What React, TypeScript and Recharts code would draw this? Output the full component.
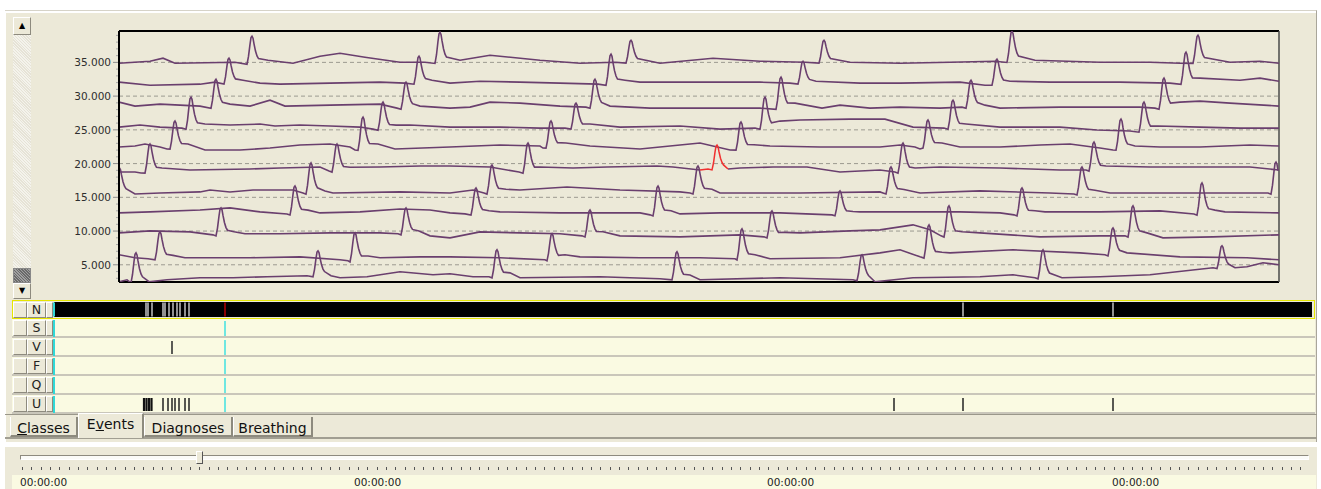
import React from "react";
import { LineChart, Line, XAxis, YAxis, ReferenceLine, ScatterChart, Scatter } from "recharts";

// time axis of the trace window (samples) and value range of the stacked leads
const T_MIN = 119;
const T_MAX = 1279;
const V_MIN = 2450;
const V_MAX = 39650;

const GRID_VALUES = [5000, 10000, 15000, 20000, 25000, 30000, 35000];
const AXIS_TICKS = [
  3000, 4000, 5000, 6000, 7000, 8000, 9000, 10000, 11000, 12000, 13000, 14000, 15000,
  16000, 17000, 18000, 19000, 20000, 21000, 22000, 23000, 24000, 25000, 26000, 27000,
  28000, 29000, 30000, 31000, 32000, 33000, 34000, 35000, 36000, 37000, 38000, 39000,
];

// baseline samples [t, value] and beats [t, base, top] for each stacked row
const A_BASE = [[119, 34880], [150, 35170], [163, 35620], [175, 34880], [235, 35020], [268, 35320], [293, 34880], [320, 35910], [340, 36350], [365, 35760], [400, 35020], [425, 35020], [460, 35320], [490, 36060], [540, 35320], [580, 34880], [615, 35020], [660, 34880], [713, 35620], [760, 35170], [805, 35020], [850, 35020], [900, 34880], [950, 35020], [995, 35170], [1035, 35320], [1100, 35020], [1150, 35020], [1180, 34880], [1230, 35020], [1260, 35170], [1279, 34880]];
const A_BEATS = [[252, 34880, 38870], [440, 35020, 39460], [631, 35020, 38280], [824, 35020, 38280], [1012, 35170, 39600], [1198, 35020, 39020]];

const B_BASE = [[119, 32070], [150, 31620], [200, 31770], [215, 32070], [243, 32360], [260, 31920], [280, 31770], [330, 31920], [380, 32070], [405, 31920], [432, 32360], [450, 31920], [480, 32210], [520, 32070], [560, 31920], [598, 31770], [625, 32360], [640, 32070], [700, 32070], [760, 32070], [790, 31920], [816, 32210], [860, 31920], [900, 31920], [960, 32070], [985, 31620], [1010, 32210], [1050, 32070], [1120, 32070], [1170, 31920], [1200, 32660], [1240, 32360], [1260, 32660], [1279, 32210]];
const B_BEATS = [[229, 31920, 35620], [419, 31920, 35910], [611, 31770, 36210], [803, 31920, 35170], [997, 31770, 35470], [1186, 31920, 36500]];

const C_BASE = [[119, 29110], [135, 28520], [160, 28810], [200, 28520], [230, 28810], [250, 28520], [270, 29400], [285, 28520], [330, 28660], [380, 28810], [397, 28220], [420, 28520], [450, 28220], [470, 28370], [490, 29110], [520, 28960], [560, 28520], [586, 28370], [610, 28520], [650, 28220], [700, 28220], [760, 28220], [795, 28960], [822, 28220], [840, 28660], [870, 28220], [900, 28370], [940, 28220], [962, 28370], [985, 28660], [1000, 28220], [1060, 28370], [1140, 28370], [1155, 28220], [1180, 29110], [1200, 29260], [1230, 28960], [1279, 28520]];
const C_BEATS = [[216, 28370, 32510], [406, 28220, 32070], [595, 28370, 32510], [781, 28220, 32810], [971, 28370, 32360], [1164, 28220, 32660]];

const D_BASE = [[119, 25410], [140, 25710], [160, 25410], [182, 25260], [205, 25860], [230, 25710], [260, 25860], [275, 25560], [300, 25710], [330, 25560], [360, 25410], [373, 25110], [396, 25700], [410, 25710], [450, 25410], [500, 25410], [540, 25260], [565, 25260], [590, 25860], [620, 25410], [680, 25560], [720, 25110], [755, 25260], [780, 26300], [800, 26450], [850, 26590], [885, 26590], [913, 25410], [944, 25260], [966, 25860], [1000, 25410], [1060, 25410], [1097, 24970], [1130, 24820], [1158, 25560], [1200, 25410], [1240, 25260], [1279, 25260]];
const D_BEATS = [[191, 25260, 29850], [383, 25110, 29110], [576, 25260, 28960], [765, 25260, 29850], [953, 25260, 29400], [1144, 24820, 29110]];

const E_BASE = [[119, 22450], [135, 22600], [145, 22900], [160, 22450], [167, 22160], [188, 22900], [205, 22010], [240, 22010], [270, 22300], [300, 22750], [330, 22900], [350, 22450], [355, 22010], [378, 22900], [395, 22160], [450, 22450], [500, 22750], [540, 22600], [543, 22300], [566, 23040], [590, 22600], [640, 22160], [680, 22750], [700, 23040], [730, 22010], [754, 22800], [770, 22600], [820, 22450], [880, 22450], [900, 22750], [915, 22450], [920, 22160], [942, 23040], [960, 22450], [1000, 22450], [1040, 22750], [1070, 22900], [1100, 22300], [1113, 22010], [1135, 22600], [1160, 22450], [1200, 22450], [1250, 22750], [1279, 22600]];
const E_BEATS = [[175, 22300, 26300], [363, 22160, 26890], [551, 22450, 26300], [741, 22160, 26150], [928, 22450, 26450], [1121, 22160, 26590]];

const F_BASE = [[119, 18750], [135, 18750], [141, 18610], [162, 19350], [190, 19050], [250, 19200], [280, 19350], [320, 19490], [329, 18900], [350, 19450], [380, 19490], [420, 19640], [450, 19640], [490, 19490], [519, 18750], [540, 19490], [573, 19350], [607, 19490], [657, 19640], [673, 19490], [700, 19050], [728, 19200], [740, 19350], [773, 19490], [807, 19490], [840, 18750], [880, 19050], [895, 18750], [915, 19350], [940, 19490], [1000, 19350], [1060, 19050], [1086, 19050], [1106, 19640], [1150, 19490], [1200, 19490], [1250, 19490], [1279, 19050]];
const F_BEATS = [[150, 18750, 22900], [337, 18900, 22900], [528, 18750, 23040], [903, 18750, 23040], [1094, 19050, 23190]];
const F_GAPS = [714];

// the highlighted (selected) beat on row F
const RED_BASE = [[700, 19050], [708, 19200], [728, 19200]];
const RED_BEATS = [[717, 19200, 22750]];

const G_BASE = [[135, 15500], [160, 15650], [200, 15800], [210, 16090], [230, 15800], [253, 16090], [293, 16090], [303, 15650], [325, 15950], [333, 15650], [400, 15800], [450, 15650], [473, 16090], [484, 15650], [506, 16200], [520, 16090], [567, 16540], [620, 16090], [680, 15800], [690, 15650], [712, 16200], [720, 15650], [800, 15650], [880, 15800], [883, 15650], [904, 16150], [920, 15650], [980, 15950], [1050, 15650], [1074, 15500], [1095, 16050], [1110, 15650], [1200, 15650], [1268, 15650]];
const G_BEATS = [[119.5, 15650, 19350], [311, 15650, 20090], [492, 15650, 19790], [698, 15650, 19640], [891, 15650, 19490], [1082, 15500, 19490], [1276, 15650, 20230]];

const H_BASE = [[119, 12690], [150, 12840], [200, 13130], [230, 13430], [260, 12840], [287, 12540], [308, 13100], [320, 12690], [360, 12840], [400, 13280], [430, 13130], [450, 12690], [465, 12540], [489, 13000], [500, 12840], [560, 12690], [600, 12690], [640, 12690], [650, 12400], [671, 13000], [680, 12540], [720, 12690], [780, 12690], [832, 12400], [853, 12900], [860, 12840], [880, 12840], [920, 12840], [960, 12840], [1000, 12690], [1014, 12400], [1035, 13000], [1045, 12840], [1100, 12840], [1160, 12990], [1194, 12540], [1215, 13100], [1225, 12840], [1279, 12690]];
const H_BEATS = [[295, 12540, 16680], [476, 12540, 16390], [658, 12400, 16680], [840, 12400, 15950], [1022, 12400, 16390], [1202, 12540, 17130]];

const I_BASE = [[119, 9730], [150, 10030], [190, 9880], [213, 9440], [234, 9900], [245, 9590], [280, 9590], [330, 9730], [380, 9730], [398, 9590], [419, 10000], [430, 9290], [450, 8990], [480, 9880], [520, 9730], [560, 9590], [582, 9290], [603, 9900], [620, 9290], [680, 9140], [740, 9440], [764, 9140], [785, 9800], [800, 9730], [850, 10030], [880, 10180], [913, 10920], [930, 10180], [941, 9290], [962, 9900], [980, 9730], [1040, 9140], [1100, 9290], [1125, 9290], [1147, 9730], [1163, 8990], [1213, 9140], [1279, 9440]];
const I_BEATS = [[221, 9440, 13430], [406, 9590, 13430], [590, 9290, 13130], [772, 9140, 12990], [949, 9290, 13730], [1133, 9290, 13730]];

const J_BASE = [[119, 6480], [135, 6040], [148, 5890], [173, 6400], [185, 6040], [250, 6040], [300, 6180], [340, 5740], [348, 5590], [368, 6300], [380, 6040], [420, 6180], [450, 6180], [500, 6040], [545, 5740], [565, 6480], [580, 6180], [640, 6040], [700, 6040], [735, 5890], [755, 6500], [770, 5890], [840, 6040], [880, 6770], [900, 7220], [920, 6180], [942, 6850], [950, 6770], [1013, 7220], [1080, 6770], [1105, 6480], [1127, 6770], [1180, 6180], [1247, 6040], [1279, 5740]];
const J_BEATS = [[160, 5890, 9880], [355, 5590, 9730], [552, 5740, 9590], [742, 5890, 10320], [929, 6180, 10920], [1113, 6480, 10470]];

const K_BASE = [[119, 2490], [127, 2780], [149, 2490], [167, 2780], [200, 3080], [233, 3080], [267, 3230], [307, 3370], [331, 3370], [340, 3080], [367, 3230], [400, 3960], [433, 3520], [450, 3670], [473, 3230], [489, 3230], [510, 3800], [520, 3080], [600, 3230], [660, 2930], [690, 3500], [700, 2780], [780, 3080], [853, 2780], [875, 2490], [913, 3080], [980, 3230], [1013, 3520], [1035, 3080], [1062, 3080], [1100, 3230], [1150, 3520], [1213, 4560], [1235, 4560], [1247, 4700], [1263, 5300], [1279, 5000]];
const K_BEATS = [[136, 2490, 6770], [318, 3370, 7070], [497, 3230, 7220], [677, 2930, 6920], [862, 2780, 6480], [1043, 3080, 7220], [1222, 4560, 7810]];

// QRS shape: [offset in samples, share of the beat amplitude]
const BEAT_SHAPE = [[-5, -0.04], [-3.5, 0.25], [-2, 0.7], [-1, 0.95], [0, 1], [1, 0.93], [2, 0.72], [3.5, 0.45], [5, 0.27], [6.5, 0.17]];

// overview strips
const STRIP_ROWS = ["N", "S", "V", "F", "Q", "U"];
const N_EVENTS = [146, 148, 152, 163, 165, 169, 173, 177, 180, 185, 189, 963, 1113];
const V_EVENTS = [172];
const U_EVENTS = [163, 168, 172, 175, 179, 185, 189, 894, 963, 1113];
const U_BURST = [144, 146.5, 149, 151.5];
const VIEW_START = 54;
const VIEW_CURSOR = 225;

const TIME_LABELS = [
  { t: 20, label: "00:00:00" },
  { t: 354, label: "00:00:00" },
  { t: 767, label: "00:00:00" },
  { t: 1112, label: "00:00:00" },
];

type Pt = { t: number; v: number | null };

function buildTrace(base: number[][], beats: number[][], gaps: number[] = []): Pt[] {
  const first = BEAT_SHAPE[0][0];
  const last = BEAT_SHAPE[BEAT_SHAPE.length - 1][0];
  const pts: Pt[] = [];
  for (const [t, v] of base) {
    if (beats.some(([bt]) => t > bt + first && t < bt + last)) continue;
    pts.push({ t, v });
  }
  for (const [bt, b, top] of beats) {
    for (const [dx, f] of BEAT_SHAPE) pts.push({ t: bt + dx, v: b + f * (top - b) });
  }
  for (const g of gaps) pts.push({ t: g, v: null });
  return pts.filter((p) => p.t >= T_MIN && p.t <= T_MAX).sort((a, b) => a.t - b.t);
}

const TRACES = [
  buildTrace(A_BASE, A_BEATS),
  buildTrace(B_BASE, B_BEATS),
  buildTrace(C_BASE, C_BEATS),
  buildTrace(D_BASE, D_BEATS),
  buildTrace(E_BASE, E_BEATS),
  buildTrace(F_BASE, F_BEATS, F_GAPS),
  buildTrace(G_BASE, G_BEATS),
  buildTrace(H_BASE, H_BEATS),
  buildTrace(I_BASE, I_BEATS),
  buildTrace(J_BASE, J_BEATS),
  buildTrace(K_BASE, K_BEATS),
];
const RED_TRACE = buildTrace(RED_BASE, RED_BEATS);

type MarkRow = { t: number; row: number; color: string; w: number; h: number };
const MARKS: MarkRow[] = [
  ...N_EVENTS.map((t) => ({ t, row: 0, color: "#f2f2f2", w: 1.2, h: 14 })),
  { t: VIEW_CURSOR, row: 0, color: "#d40000", w: 1.3, h: 14 },
  { t: VIEW_START, row: 0, color: "#30d8d8", w: 2, h: 14 },
  ...[1, 2, 3, 4, 5].map((row) => ({ t: VIEW_START, row, color: "#30d8d8", w: 2, h: 17 })),
  ...[1, 2, 3, 4, 5].map((row) => ({ t: VIEW_CURSOR, row, color: "#40e0e0", w: 1.5, h: 15 })),
  ...V_EVENTS.map((t) => ({ t, row: 2, color: "#333", w: 1.6, h: 13 })),
  ...U_BURST.map((t) => ({ t, row: 5, color: "#111", w: 2.2, h: 13 })),
  ...U_EVENTS.map((t) => ({ t, row: 5, color: "#222", w: 1.5, h: 13 })),
];

const BEIGE = "#ECE9D8";
const STRIP_BG = "#FAFAE2";
const FONT = "'DejaVu Sans', Tahoma, sans-serif";

function YTick(props: any) {
  const { x, y, payload } = props;
  const major = payload.value % 5000 === 0;
  return (
    <g>
      <line x1={x - (major ? 6 : 3)} x2={x - 1} y1={y} y2={y} stroke={major ? "#8f8f8f" : "#a9a9a9"} />
      {major && (
        <text x={x - 8} y={y + 4} textAnchor="end" fontSize={10.5} fontFamily={FONT} fill="#2e2e2e">
          {`${payload.value / 1000}.000`}
        </text>
      )}
    </g>
  );
}

function Mark(props: any) {
  const { cx, cy, payload } = props;
  return (
    <line x1={cx} x2={cx} y1={cy - payload.h / 2} y2={cy + payload.h / 2} stroke={payload.color} strokeWidth={payload.w} />
  );
}

const bevel: React.CSSProperties = {
  position: "absolute",
  boxSizing: "border-box",
  background: BEIGE,
  borderTop: "1px solid #fff",
  borderLeft: "1px solid #fff",
  borderRight: "1px solid #8d8a7e",
  borderBottom: "1px solid #8d8a7e",
};

function StripButtons({ top, letter }: { top: number; letter: string }) {
  return (
    <>
      <div style={{ ...bevel, left: 13, top: top + 2, width: 14, height: 16 }} />
      <div
        style={{
          ...bevel,
          left: 27,
          top: top + 2,
          width: 19,
          height: 16,
          fontSize: 12.5,
          lineHeight: "14px",
          textAlign: "center",
          color: "#222",
        }}
      >
        {letter}
      </div>
      <div style={{ ...bevel, left: 46, top: top + 2, width: 7, height: 16 }} />
    </>
  );
}

function Tab({ left, width, top, label, u, selected }: { left: number; width: number; top: number; label: string; u: number; selected?: boolean }) {
  return (
    <div
      style={{
        position: "absolute",
        left,
        top,
        width,
        height: selected ? 25 : 20,
        boxSizing: "border-box",
        background: BEIGE,
        borderLeft: "1px solid #fff",
        borderTop: selected ? "1px solid #fff" : "none",
        borderRight: "2px solid #8d8a7e",
        borderBottom: selected ? "none" : "2px solid #8d8a7e",
        fontSize: 14,
        lineHeight: "16px",
        paddingTop: selected ? 2 : 3,
        textAlign: "center",
        whiteSpace: "nowrap",
        color: "#111",
        zIndex: selected ? 2 : 1,
      }}
    >
      {u < 0 ? (
        label
      ) : (
        <>
          {label.slice(0, u)}
          <span style={{ textDecoration: "underline" }}>{label[u]}</span>
          {label.slice(u + 1)}
        </>
      )}
    </div>
  );
}

export default function App() {
  return (
    <div style={{ position: "absolute", left: 0, top: 0, width: 1321, height: 489, background: "#fff", overflow: "hidden", fontFamily: FONT }}>
      {/* main panel */}
      <div style={{ position: "absolute", left: 5, top: 10, width: 1312, height: 432, boxSizing: "border-box", background: BEIGE, borderTop: "1px solid #d6d3c8", borderRight: "1px solid #a9a69a", boxShadow: "inset 1px 2px #fff" }} />

      {/* vertical scroll bar */}
      <div style={{ position: "absolute", left: 13, top: 35, width: 18, height: 233, background: "repeating-linear-gradient(45deg, #f4f3ec 0 1px, #e6e3d6 1px 2px)" }} />
      <div style={{ ...bevel, left: 13, top: 17, width: 18, height: 18, fontSize: 8, lineHeight: "15px", textAlign: "center", color: "#000" }}>▲</div>
      <div style={{ position: "absolute", left: 13, top: 268, width: 18, height: 15, background: "repeating-linear-gradient(45deg, #6a6a6a 0 1px, #a0a0a0 1px 2px)", border: "1px solid #888", boxSizing: "border-box" }} />
      <div style={{ ...bevel, left: 13, top: 283, width: 18, height: 16, fontSize: 8, lineHeight: "14px", textAlign: "center", color: "#000" }}>▼</div>

      {/* traces */}
      <div style={{ position: "absolute", left: 0, top: 0 }}>
        <LineChart width={1300} height={290} margin={{ top: 31, right: 21, bottom: 8, left: 0 }}>
          <XAxis type="number" dataKey="t" domain={[T_MIN, T_MAX]} hide allowDataOverflow />
          <YAxis
            type="number"
            domain={[V_MIN, V_MAX]}
            ticks={AXIS_TICKS}
            interval={0}
            width={119}
            tickSize={0}
            tickMargin={0}
            tickLine={false}
            axisLine={{ stroke: "#000", strokeWidth: 2 }}
            tick={(p: any) => <YTick {...p} />}
            allowDataOverflow
          />
          {GRID_VALUES.map((v) => (
            <ReferenceLine key={v} y={v} stroke="#9c9a90" strokeDasharray="4 3" />
          ))}
          <ReferenceLine y={V_MAX} stroke="#000" strokeWidth={2} />
          <ReferenceLine y={V_MIN} stroke="#000" strokeWidth={2} />
          <ReferenceLine x={T_MAX} stroke="#4a4a4a" strokeWidth={1.5} />
          {TRACES.map((d, i) => (
            <Line
              key={i}
              data={d}
              dataKey="v"
              type="linear"
              stroke="#6a3f6e"
              strokeWidth={1.6}
              dot={false}
              activeDot={false}
              connectNulls={false}
              isAnimationActive={false}
            />
          ))}
          <Line data={RED_TRACE} dataKey="v" type="linear" stroke="#f03030" strokeWidth={1.5} dot={false} activeDot={false} isAnimationActive={false} />
        </LineChart>
      </div>

      {/* event strips */}
      <div style={{ position: "absolute", left: 12, top: 300, width: 1303, height: 19, boxSizing: "border-box", border: "1px solid #e6e600", background: BEIGE }} />
      <div style={{ position: "absolute", left: 54, top: 302, width: 1258, height: 15, background: "#000" }} />
      {STRIP_ROWS.slice(1).map((r, i) => (
        <div key={r} style={{ position: "absolute", left: 12, top: 319 + i * 19, width: 1303, height: 19, boxSizing: "border-box", background: STRIP_BG, borderBottom: "2px solid #c9c6ba" }} />
      ))}
      {STRIP_ROWS.map((r, i) => (
        <StripButtons key={r} top={300 + i * 19 - (i === 0 ? 0 : 1)} letter={r} />
      ))}
      <div style={{ position: "absolute", left: 0, top: 300 }}>
        <ScatterChart width={1321} height={114} margin={{ top: 0, right: 0, bottom: 0, left: 0 }}>
          <XAxis type="number" dataKey="t" domain={[0, 1321]} hide />
          <YAxis type="number" dataKey="row" domain={[-0.5, 5.5]} reversed hide />
          <Scatter data={MARKS} shape={(p: any) => <Mark {...p} />} isAnimationActive={false} />
        </ScatterChart>
      </div>
      <div style={{ position: "absolute", left: 5, top: 414, width: 1312, height: 1, background: "#9a978a" }} />

      {/* tabs */}
      <div style={{ position: "absolute", left: 5, top: 437, width: 1312, height: 2, background: "#a19e92" }} />
      <Tab left={10} width={68} top={417} label="Classes" u={0} />
      <Tab left={78} width={66} top={413} label="Events" u={1} selected />
      <Tab left={144} width={89} top={417} label="Diagnoses" u={-1} />
      <Tab left={233} width={80} top={417} label="Breathing" u={-1} />

      {/* time slider */}
      <div style={{ position: "absolute", left: 5, top: 446, width: 1312, height: 43, background: BEIGE, borderTop: "1px solid #fff" }} />
      <div style={{ position: "absolute", left: 20, top: 455, width: 1289, height: 5, boxSizing: "border-box", background: "#fbfbf8", borderTop: "1px solid #8d8a7e", borderLeft: "1px solid #8d8a7e", borderRight: "1px solid #fff", borderBottom: "1px solid #fff" }} />
      <div style={{ ...bevel, left: 196, top: 451, width: 7, height: 13, borderRight: "1px solid #555", borderBottom: "1px solid #555" }} />
      <div style={{ position: "absolute", left: 22, top: 467, width: 1286, height: 3, background: "repeating-linear-gradient(to right, #555 0 1px, transparent 1px 9.33px)" }} />
      <div style={{ position: "absolute", left: 12, top: 475, width: 1304, height: 14, background: STRIP_BG }} />
      {TIME_LABELS.map((l, i) => (
        <div key={i} style={{ position: "absolute", left: l.t, top: 476, fontSize: 10.5, lineHeight: "13px", color: "#222" }}>
          {l.label}
        </div>
      ))}
    </div>
  );
}
